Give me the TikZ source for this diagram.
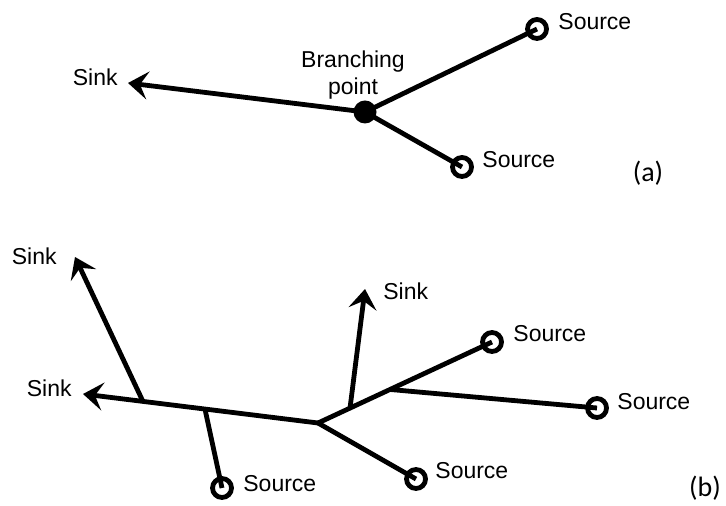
\documentclass[tikz,border=0pt]{standalone}
\usepackage{fontspec}
\setmainfont{Liberation Sans}
\newfontfamily\tagfont{Carlito}
\usetikzlibrary{arrows.meta,calc}

\tikzset{
  pipe/.style={line width=2.4pt, line cap=butt},
  flow/.style={pipe, -{Stealth[length=10pt,width=14pt,inset=4pt]}},
  srcring/.style={circle, draw, line width=2.4pt, inner sep=0pt, minimum size=9.5pt},
  bpdot/.style={circle, fill, inner sep=0pt, minimum size=11.5pt},
  lbl/.style={inner sep=0pt, font=\fontsize{11.5}{13.5}\selectfont},
  tag/.style={inner sep=0pt, font=\tagfont\fontsize{14}{16}\selectfont},
}

\begin{document}
\begin{tikzpicture}[x=0.5pt,y=-0.5pt]
\useasboundingbox (0,0) rectangle (726,506);

% (a) one branching point
\node[bpdot] (bp) at (365,112) {};
\node[srcring] (sa1) at (537,29) {};
\node[srcring] (sa2) at (462,167) {};
\coordinate (ka) at (128,83);
\draw[flow] (bp.center) -- (ka);
\draw[pipe] (bp.center) -- (sa1.center);
\draw[pipe] (bp.center) -- (sa2.center);
\node[lbl, anchor=east] (tka) at (118,77) {Sink};
\node[lbl, align=center] (tbp) at (353,75.5) {Branching\\point};
\node[lbl, anchor=west] (tsa1) at (558,22) {Source};
\node[lbl, anchor=west] (tsa2) at (482,160) {Source};
\node[tag] (taga) at (648,173) {(a)};

% (b) a tree of pipes
\coordinate (hub) at (318,423);
\coordinate (kl) at (83,394);
\coordinate (ku) at (75,257);
\coordinate (km) at (365,289);
\node[srcring] (sb1) at (222,488) {};
\node[srcring] (sb2) at (416,479) {};
\node[srcring] (sb3) at (492,342) {};
\node[srcring] (sb4) at (597,408) {};
\coordinate (ja) at ($(kl)!0.255!(hub)$);
\coordinate (jd) at ($(kl)!0.519!(hub)$);
\coordinate (jb) at ($(hub)!0.184!(sb3)$);
\coordinate (jc) at ($(hub)!0.414!(sb3)$);
\draw[flow] (hub) -- (kl);
\draw[flow] (ja) -- (ku);
\draw[flow] (jb) -- (km);
\draw[pipe] (jd) -- (sb1.center);
\draw[pipe] (hub) -- (sb2.center);
\draw[pipe] (hub) -- (sb3.center);
\draw[pipe] (jc) -- (sb4.center);
\node[lbl, anchor=east] (tku) at (57,256) {Sink};
\node[lbl, anchor=east] (tkl) at (72,388.5) {Sink};
\node[lbl, anchor=west] (tkm) at (383,291.5) {Sink};
\node[lbl, anchor=west] (tsb1) at (243,483.5) {Source};
\node[lbl, anchor=west] (tsb2) at (435,471) {Source};
\node[lbl, anchor=west] (tsb3) at (513,333.5) {Source};
\node[lbl, anchor=west] (tsb4) at (617,401.5) {Source};
\node[tag] (tagb) at (705,488) {(b)};
\end{tikzpicture}
\end{document}
